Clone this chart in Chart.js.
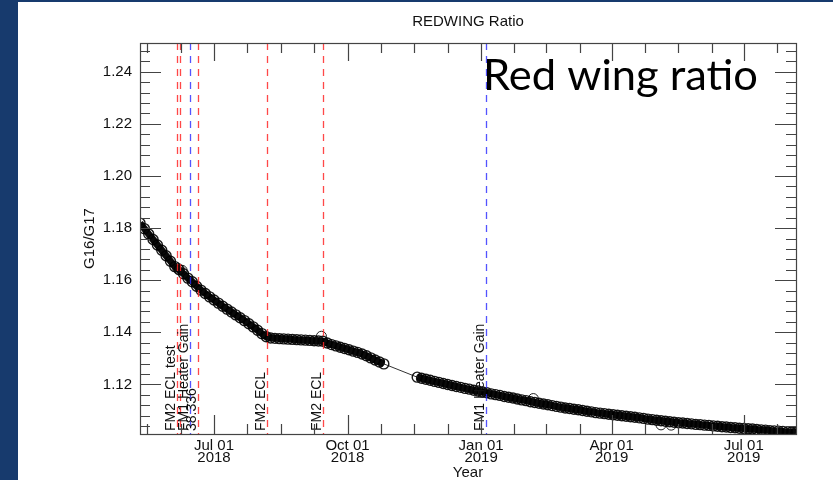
<!DOCTYPE html>
<html>
<head>
<meta charset="utf-8">
<script src="https://cdn.jsdelivr.net/npm/chart.js@4.4.1/dist/chart.umd.min.js"></script>
<style>
  html, body { margin: 0; padding: 0; background: #ffffff; }
  canvas { display: block; }
</style>
</head>
<body>
<canvas id="ratioChart" width="833" height="480"></canvas>
<script>
// days counted from 2018-01-01 (day 0)
const daysA = [130, 133, 136, 139, 142, 145, 148, 151, 154, 157,
               160, 163, 166, 169, 172, 175, 178, 181, 184, 187,
               190, 193, 196, 199, 202, 205, 208, 211, 214, 217,
               220, 223, 226, 229, 232, 235, 238, 241, 244, 247,
               250, 253, 256, 259, 262, 265, 268, 271, 274, 277,
               280, 283, 286, 289, 292, 295, 298];
const ratioA = [1.1819, 1.1798, 1.1777, 1.1756, 1.1735, 1.1715, 1.1694, 1.1673, 1.1652, 1.1640,
                1.1625, 1.1608, 1.1594, 1.1577, 1.1562, 1.1549, 1.1536, 1.1524, 1.1512, 1.1500,
                1.1489, 1.1478, 1.1467, 1.1456, 1.1445, 1.1433, 1.1421, 1.1408, 1.1395, 1.1383,
                1.1378, 1.1377, 1.1376, 1.1375, 1.1374, 1.1373, 1.1372, 1.1371, 1.1370, 1.1369,
                1.1368, 1.1367, 1.1366, 1.1359, 1.1353, 1.1348, 1.1343, 1.1338, 1.1333, 1.1328,
                1.1323, 1.1317, 1.1310, 1.1302, 1.1294, 1.1286, 1.1279];

const daysB = [321, 324, 327, 330, 333, 336, 339, 342, 345, 348,
               351, 354, 357, 360, 363, 366, 369, 372, 375, 378,
               381, 384, 387, 390, 393, 396, 399, 402, 405, 408,
               411, 414, 417, 420, 423, 426, 429, 432, 435, 438,
               441, 444, 447, 450, 453, 456, 459, 462, 465, 468,
               471, 474, 477, 480, 483, 486, 489, 492, 495, 498,
               501, 504, 507, 510, 513, 516, 519, 522, 525, 528,
               531, 534, 537, 540, 543, 546, 549, 552, 555, 558,
               561, 564, 567, 570, 573, 576, 579, 582];
const ratioB = [1.1228, 1.1224, 1.1220, 1.1216, 1.1212, 1.1208, 1.1204, 1.1200, 1.1196, 1.1192,
                1.1189, 1.1185, 1.1182, 1.1178, 1.1175, 1.1171, 1.1168, 1.1164, 1.1161, 1.1158,
                1.1154, 1.1151, 1.1148, 1.1144, 1.1141, 1.1138, 1.1134, 1.1131, 1.1128, 1.1125,
                1.1122, 1.1119, 1.1116, 1.1113, 1.1110, 1.1108, 1.1105, 1.1103, 1.1100, 1.1097,
                1.1095, 1.1092, 1.1090, 1.1088, 1.1086, 1.1084, 1.1082, 1.1080, 1.1078, 1.1076,
                1.1074, 1.1072, 1.1070, 1.1067, 1.1065, 1.1063, 1.1061, 1.1059, 1.1057, 1.1055,
                1.1053, 1.1052, 1.1050, 1.1049, 1.1047, 1.1046, 1.1044, 1.1043, 1.1041, 1.1040,
                1.1038, 1.1037, 1.1035, 1.1034, 1.1032, 1.1031, 1.1030, 1.1029, 1.1027, 1.1026,
                1.1025, 1.1023, 1.1022, 1.1021, 1.1020, 1.1018, 1.1017, 1.1016];

// stray points sitting off the main band
const strayDays = [156, 159, 255, 401, 489, 496];
const strayRatio = [1.1646, 1.1638, 1.1385, 1.1146, 1.1045, 1.1044];

// event markers
const eventDays = [155.5, 157.6, 164.5, 170.0, 217.5, 256.1, 368.4];
const eventColors = ['red', 'red', 'blue', 'red', 'red', 'red', 'blue'];
const eventLabels = ['FM2 ECL test', '', 'FM1 Heater Gain', '38.336', 'FM2 ECL', 'FM2 ECL', 'FM1 Heater Gain'];

// axes
const xMajorDays = [181, 273, 365, 455, 546];
const xTickLabels = [['Jul 01', '2018'], ['Oct 01', '2018'], ['Jan 01', '2019'], ['Apr 01', '2019'], ['Jul 01', '2019']];
const xMinorDays = [135, 158, 204, 227, 250, 296, 319, 342, 388, 410, 433, 478, 501, 524, 569];
const yMajor = [1.12, 1.14, 1.16, 1.18, 1.20, 1.22, 1.24];
const yTickLabels = ['1.12', '1.14', '1.16', '1.18', '1.20', '1.22', '1.24'];

if (daysA.length !== ratioA.length || daysB.length !== ratioB.length) {
    throw new Error('length mismatch ' + daysA.length + '/' + ratioA.length + ' ' + daysB.length + '/' + ratioB.length);
}

const mainPoints = daysA.map((d, i) => ({ x: d, y: ratioA[i] }))
    .concat(daysB.map((d, i) => ({ x: d, y: ratioB[i] })));
const strayPoints = strayDays.map((d, i) => ({ x: d, y: strayRatio[i] }));

const FONT = "'Liberation Sans', Arial, sans-serif";
const isYMajor = v => yMajor.some(m => Math.abs(m - v) < 1e-6);

const framePlugin = {
    id: 'frame',
    beforeDraw(chart) {
        const ctx = chart.ctx;
        ctx.save();
        ctx.fillStyle = '#173a6d';
        ctx.fillRect(0, 0, chart.width, chart.height);
        ctx.fillStyle = '#ffffff';
        ctx.fillRect(18, 2, chart.width - 18, chart.height - 2);
        ctx.restore();
    },
    afterDatasetsDraw(chart) {
        const { ctx, chartArea: a, scales: { x } } = chart;
        ctx.save();
        ctx.lineWidth = 1.3;
        ctx.setLineDash([7, 6]);
        eventDays.forEach((d, i) => {
            const px = Math.round(x.getPixelForValue(d)) + 0.5;
            ctx.strokeStyle = eventColors[i] === 'red' ? 'rgba(255, 40, 40, 0.85)' : 'rgba(40, 40, 255, 0.8)';
            ctx.beginPath();
            ctx.moveTo(px, a.top);
            ctx.lineTo(px, a.bottom);
            ctx.stroke();
        });
        ctx.setLineDash([]);
        ctx.fillStyle = '#111';
        ctx.font = '14px ' + FONT;
        ctx.textAlign = 'left';
        ctx.textBaseline = 'bottom';
        eventDays.forEach((d, i) => {
            if (!eventLabels[i]) return;
            const px = x.getPixelForValue(d);
            ctx.save();
            ctx.translate(px + 1, a.bottom - 3);
            ctx.rotate(-Math.PI / 2);
            ctx.fillText(eventLabels[i], 0, 0);
            ctx.restore();
        });
        ctx.restore();
    },
    afterDraw(chart) {
        const { ctx, chartArea: a, scales: { x, y } } = chart;
        ctx.save();
        ctx.strokeStyle = '#444';
        ctx.lineWidth = 1.2;
        ctx.strokeRect(a.left + 0.5, a.top + 0.5, a.right - a.left, a.bottom - a.top);
        ctx.beginPath();
        x.ticks.forEach(t => {
            const px = Math.round(x.getPixelForValue(t.value)) + 0.5;
            const major = xMajorDays.includes(t.value);
            ctx.moveTo(px, a.bottom);
            ctx.lineTo(px, a.bottom - (major ? 19 : 10));
            ctx.moveTo(px, a.top);
            ctx.lineTo(px, a.top + (major ? 18 : 10));
        });
        y.ticks.forEach(t => {
            const py = Math.round(y.getPixelForValue(t.value)) + 0.5;
            const len = isYMajor(t.value) ? 21 : 10;
            ctx.moveTo(a.left, py);
            ctx.lineTo(a.left + len, py);
            ctx.moveTo(a.right, py);
            ctx.lineTo(a.right - len, py);
        });
        ctx.stroke();

        // plot title
        ctx.fillStyle = '#111';
        ctx.font = '15px ' + FONT;
        ctx.textAlign = 'center';
        ctx.textBaseline = 'middle';
        ctx.fillText('REDWING Ratio', (a.left + a.right) / 2, 22);

        // slide caption
        const caption = 'Red wing ratio';
        ctx.font = "42px Lato, 'Open Sans', sans-serif";
        ctx.textAlign = 'left';
        ctx.textBaseline = 'alphabetic';
        ctx.fillStyle = '#000';
        const w = ctx.measureText(caption).width;
        ctx.translate(483, 90);
        ctx.scale(275 / w, 1);
        ctx.fillText(caption, 0, 0);
        ctx.restore();
    }
};

document.addEventListener('DOMContentLoaded', function () {
    const ctx = document.getElementById('ratioChart').getContext('2d');

    const chart = new Chart(ctx, {
        type: 'scatter',
        data: {
            datasets: [
                {
                    label: 'G16/G17',
                    data: mainPoints,
                    showLine: true,
                    borderColor: '#000',
                    borderWidth: 1,
                    // thick band where samples are dense, thin line across the data gap
                    segment: {
                        borderWidth: s => (s.p1.parsed.x - s.p0.parsed.x > 10 ? 1 : 7),
                        borderColor: s => (s.p1.parsed.x - s.p0.parsed.x > 10 ? '#333' : '#0a0a0a'),
                    },
                    pointRadius: 5,
                    pointBorderWidth: 1.4,
                    pointBorderColor: 'rgba(0, 0, 0, 0.9)',
                    pointBackgroundColor: 'rgba(0, 0, 0, 0)',
                },
                {
                    label: 'stray',
                    data: strayPoints,
                    showLine: false,
                    pointRadius: 5,
                    pointBorderWidth: 1,
                    pointBorderColor: '#222',
                    pointBackgroundColor: 'rgba(0, 0, 0, 0)',
                },
            ],
        },
        options: {
            responsive: false,
            animation: false,
            devicePixelRatio: 1,
            layout: { padding: { left: 0, right: 37, top: 43, bottom: 0 } },
            plugins: {
                legend: { display: false },
                tooltip: { enabled: false },
            },
            scales: {
                x: {
                    type: 'linear',
                    min: 130,
                    max: 582,
                    grid: { display: false, drawTicks: false },
                    border: { display: false },
                    afterBuildTicks: s => {
                        s.ticks = xMajorDays.concat(xMinorDays).sort((p, q) => p - q).map(v => ({ value: v }));
                    },
                    afterFit: s => { s.height = 46; },
                    ticks: {
                        autoSkip: false,
                        maxRotation: 0,
                        padding: 5,
                        color: '#111',
                        font: { family: FONT, size: 15, lineHeight: 0.85 },
                        callback: v => {
                            const i = xMajorDays.indexOf(v);
                            return i >= 0 ? xTickLabels[i] : '';
                        },
                    },
                    title: {
                        display: true,
                        text: 'Year',
                        color: '#111',
                        font: { family: FONT, size: 15, lineHeight: 1 },
                        padding: { top: 0, bottom: 0 },
                    },
                },
                y: {
                    type: 'linear',
                    min: 1.101,
                    max: 1.251,
                    grid: { display: false, drawTicks: false },
                    border: { display: false },
                    afterBuildTicks: s => {
                        const t = [];
                        for (let v = 1.104; v < 1.2505; v += 0.004) t.push({ value: Math.round(v * 1000) / 1000 });
                        s.ticks = t;
                    },
                    afterFit: s => { s.width = 140; },
                    ticks: {
                        autoSkip: false,
                        padding: 8,
                        color: '#111',
                        font: { family: FONT, size: 15 },
                        callback: v => {
                            const i = yMajor.findIndex(m => Math.abs(m - v) < 1e-6);
                            return i >= 0 ? yTickLabels[i] : '';
                        },
                    },
                    title: {
                        display: true,
                        text: 'G16/G17',
                        color: '#111',
                        font: { family: FONT, size: 15 },
                        padding: { top: 81, bottom: 0 },
                    },
                },
            },
        },
        plugins: [framePlugin],
    });
});
</script>
</body>
</html>
